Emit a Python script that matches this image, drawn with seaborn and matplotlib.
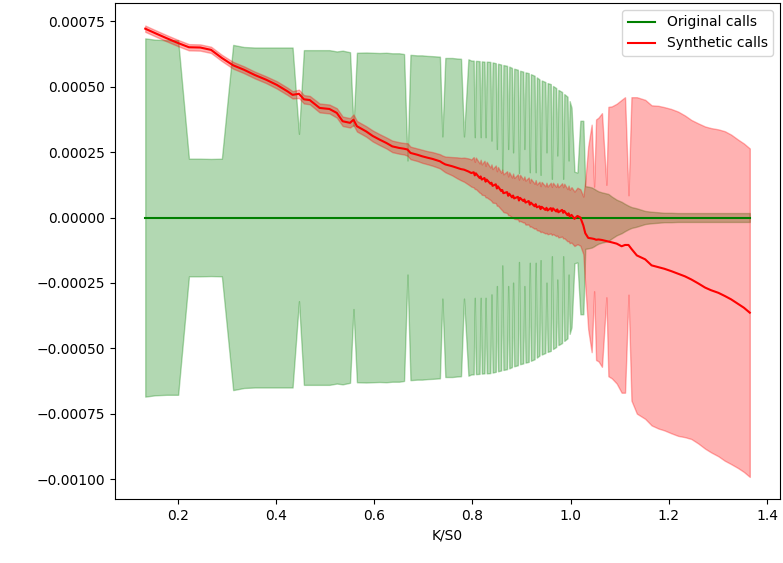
import numpy as np
import pandas as pd
import matplotlib
matplotlib.use("Agg")
import matplotlib.pyplot as plt
import seaborn as sns

# Moneyness grid (strike over spot)
moneyness = [
    0.134, 0.154, 0.177, 0.201, 0.223, 0.246, 0.268, 0.290, 0.313, 0.335,
    0.357, 0.380, 0.402, 0.424, 0.434, 0.447, 0.457, 0.469, 0.489, 0.509,
    0.524, 0.536, 0.551, 0.558, 0.565, 0.584, 0.597, 0.611, 0.625, 0.637,
    0.651, 0.661, 0.668, 0.674, 0.688, 0.698, 0.708, 0.719, 0.734, 0.739,
    0.745, 0.759, 0.769, 0.777, 0.783, 0.792,
    0.798,
    0.8028, 0.805, 0.8072, 0.8148, 0.817, 0.8192, 0.8248, 0.827, 0.8292,
    0.8368, 0.839, 0.8412, 0.8478, 0.850, 0.8522, 0.8588, 0.861, 0.8632,
    0.8708, 0.873, 0.8752, 0.8808, 0.883, 0.8852, 0.8928, 0.895, 0.8972,
    0.9038, 0.906, 0.9082, 0.9148, 0.917, 0.9192, 0.9268, 0.929, 0.9312,
    0.9368, 0.939, 0.9412, 0.9488, 0.951, 0.9532, 0.9598, 0.962, 0.9642,
    0.9708, 0.973, 0.9752, 0.9828, 0.985, 0.9872, 0.9938, 0.996, 0.9982,
    1.002, 1.008, 1.014, 1.020, 1.026,
    1.030, 1.036, 1.043, 1.048, 1.052, 1.057, 1.064, 1.073, 1.077, 1.084,
    1.094, 1.104, 1.111, 1.118, 1.124, 1.135, 1.152, 1.165, 1.179, 1.191,
    1.205, 1.219, 1.233, 1.246, 1.260, 1.274, 1.286, 1.301, 1.314, 1.327,
    1.341, 1.353, 1.365,
]

# Synthetic calls: mean pricing error (in units of 1e-6)
synthetic_mean_u = [
    722, 705, 686, 667, 651, 650, 641, 610, 582, 565,
    545, 527, 507, 482, 469, 473, 452, 449, 419, 415,
    400, 368, 362, 374, 349, 329, 312, 298, 285, 272,
    266, 263, 260, 247, 240, 234, 229, 224, 215, 209,
    203, 196, 190, 185, 183, 176,
    170,
    173, 161, 169, 151, 157, 145, 151, 137, 145,
    129, 133, 121, 127, 111, 119, 101, 105, 93,
    97, 83, 91, 77, 84, 73, 79, 65, 75,
    63, 69, 57, 63, 49, 57, 43, 51, 39,
    43, 32, 41, 29, 37, 27, 36, 25, 35,
    23, 31, 20, 29, 18, 25, 9, 16, 4,
    10, -5, 6, 0, -30,
    -60, -78, -80, -82, -85, -84, -86, -90, -92, -95,
    -100, -110, -105, -105, -120, -145, -160, -183, -190, -196,
    -205, -215, -225, -237, -252, -268, -278, -288, -300, -313,
    -330, -345, -364,
]

# Synthetic calls: spread of the error (in units of 1e-6)
synthetic_sd_u = [
    12, 12, 12, 12, 12, 12, 12, 12, 13, 13,
    13, 13, 14, 14, 14, 16, 16, 16, 17, 17,
    18, 18, 18, 20, 20, 20, 21, 21, 21, 22,
    22, 22, 24, 24, 24, 25, 25, 26, 27, 28,
    30, 35, 40, 43, 46, 50,
    52,
    58, 52, 60, 56, 64, 58, 66, 60, 68,
    62, 70, 64, 72, 66, 74, 70, 78, 72,
    80, 74, 82, 76, 84, 78, 86, 80, 88,
    82, 88, 84, 90, 84, 91, 86, 92, 87,
    94, 88, 95, 90, 96, 91, 97, 92, 98,
    94, 100, 96, 102, 98, 104, 100, 106, 102,
    106, 104, 108, 108, 110,
    200, 350, 435, 200, 460, 466, 485, 215, 515, 520,
    535, 560, 565, 190, 580, 605, 610, 612, 617, 618,
    620, 620, 615, 610, 612, 616, 620, 625, 630, 630,
    628, 628, 628,
]

# Original calls: spread around a zero mean error (in units of 1e-6)
original_sd_u = [
    685, 680, 678, 678, 225, 225, 224, 225, 660, 652,
    650, 650, 650, 650, 650, 320, 640, 640, 640, 640,
    635, 638, 632, 350, 630, 631, 630, 629, 630, 628,
    628, 625, 218, 622, 620, 620, 618, 617, 615, 310,
    610, 610, 608, 607, 310, 605,
    600,
    600, 307, 599, 598, 307, 597, 596, 307, 596,
    595, 294, 593, 590, 262, 588, 585, 183, 583,
    580, 262, 577, 572, 249, 569, 565, 170, 561,
    558, 262, 555, 552, 173, 548, 542, 173, 536,
    528, 163, 524, 518, 249, 514, 510, 148, 503,
    495, 237, 488, 480, 148, 472, 462, 218, 445,
    420, 175, 172, 370, 370,
    120, 118, 115, 110, 105, 100, 96, 92, 90, 80,
    68, 60, 52, 45, 40, 35, 25, 22, 20, 18,
    18, 17, 17, 17, 17, 17, 17, 17, 17, 17,
    17, 17, 17,
]

unit = 1e-6
x = np.array(moneyness)
syn_mean = np.array(synthetic_mean_u) * unit
syn_sd = np.array(synthetic_sd_u) * unit
orig_sd = np.array(original_sd_u) * unit
orig_mean = np.zeros_like(x)

df = pd.DataFrame({
    "K/S0": x,
    "original": orig_mean,
    "synthetic": syn_mean,
})

fig, ax = plt.subplots(figsize=(7.83, 5.63), dpi=100)
fig.subplots_adjust(left=0.1469, right=0.9962, bottom=0.1128, top=0.9947)

ax.fill_between(x, orig_mean - orig_sd, orig_mean + orig_sd, color="green", alpha=0.3)
ax.fill_between(x, syn_mean - syn_sd, syn_mean + syn_sd, color="red", alpha=0.3)

sns.lineplot(data=df, x="K/S0", y="original", color="green", label="Original calls", ax=ax)
sns.lineplot(data=df, x="K/S0", y="synthetic", color="red", label="Synthetic calls", ax=ax)

ax.set_xlabel("K/S0")
ax.set_ylabel("")
ax.legend(loc="upper right")

fig.savefig("out.png", dpi=100)
